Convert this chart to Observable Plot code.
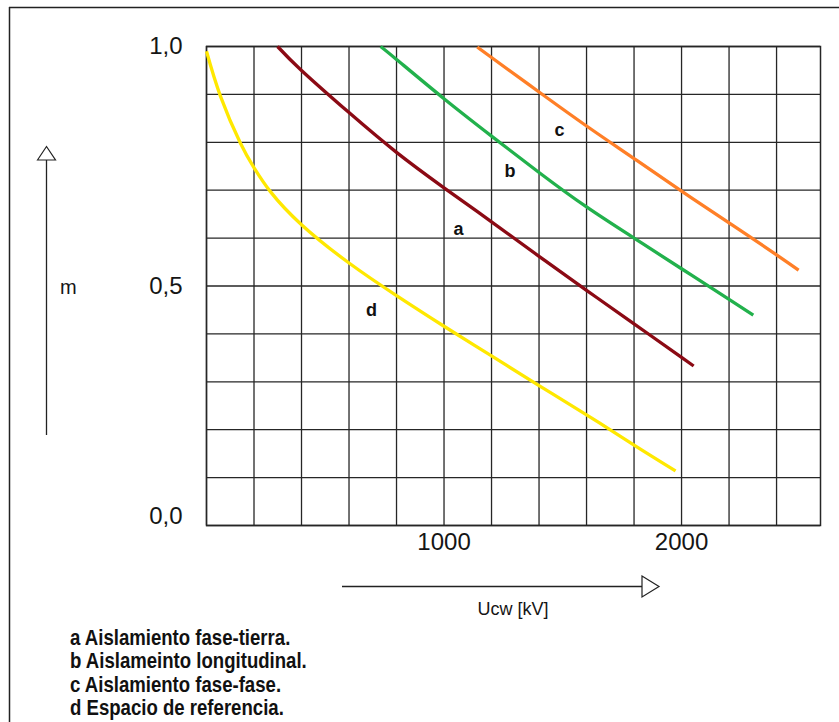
<!DOCTYPE html>
<html>
<head>
<meta charset="utf-8">
<script src="https://cdn.jsdelivr.net/npm/d3@7"></script>
<script src="https://cdn.jsdelivr.net/npm/@observablehq/plot@0.6"></script>
<style>
  html, body { margin: 0; padding: 0; background: #fff; }
  #page { position: relative; width: 839px; height: 722px; overflow: hidden; background: #fff; }
  #chart { position: absolute; left: 0; top: 0; }
  #overlay { position: absolute; left: 0; top: 0; }
</style>
</head>
<body>
<div id="page">
  <div id="chart"></div>
  <svg id="overlay" width="839" height="722"></svg>
</div>
<script>
// ---- data ----
// curve a: Aislamiento fase-tierra
const aX = [299, 400, 600, 800, 1000, 1200, 1400, 1600, 1800, 2000, 2051];
const aY = [1.0, 0.950, 0.862, 0.779, 0.705, 0.634, 0.562, 0.491, 0.421, 0.351, 0.333];
// curve b: Aislameinto longitudinal
const bX = [733, 800, 1000, 1200, 1400, 1600, 1800, 2000, 2200, 2302];
const bY = [1.0, 0.973, 0.891, 0.813, 0.737, 0.665, 0.600, 0.536, 0.472, 0.439];
// curve c: Aislamiento fase-fase
const cX = [1140, 1200, 1400, 1600, 1800, 2000, 2200, 2400, 2493];
const cY = [0.999, 0.977, 0.905, 0.834, 0.766, 0.698, 0.632, 0.565, 0.533];
// curve d: Espacio de referencia
const dX = [0, 59, 143, 200, 269, 400, 600, 800, 1000, 1200, 1400, 1600, 1800, 1975];
const dY = [0.990, 0.896, 0.798, 0.747, 0.697, 0.628, 0.548, 0.480, 0.416, 0.354, 0.292, 0.231, 0.168, 0.114];

const curveNames = ["a", "b", "c", "d"];
const curveColors = ["#8b0a14", "#22b14c", "#ff7f27", "#ffe800"];
const labelX = [1061, 1278, 1486, 695];
const labelY = [0.618, 0.739, 0.825, 0.449];

const xGrid = [0, 200, 400, 600, 800, 1000, 1200, 1400, 1600, 1800, 2000, 2200, 2400];
const yGrid = [0, 0.1, 0.2, 0.3, 0.4, 0.5, 0.6, 0.7, 0.8, 0.9, 1.0];
const xTicks = [1000, 2000];
const xTickLabels = ["1000", "2000"];
const yTicks = [0, 0.5, 1.0];
const yTickLabels = ["0,0", "0,5", "1,0"];

const legendLines = [
  "a Aislamiento fase-tierra.",
  "b Aislameinto longitudinal.",
  "c Aislamiento fase-fase.",
  "d Espacio de referencia."
];
const xAxisTitle = "Ucw [kV]";
const yAxisTitle = "m";

// ---- build tables ----
function table(xs, ys, name) { return xs.map((x, i) => ({x, y: ys[i], name})); }
const series = [table(aX, aY, "a"), table(bX, bY, "b"), table(cX, cY, "c"), table(dX, dY, "d")];
const labels = curveNames.map((n, i) => ({name: n, x: labelX[i], y: labelY[i]}));

const fontMain = "'Liberation Sans', Arial, Helvetica, sans-serif";
const gridColor = "#262626";

const plot = Plot.plot({
  width: 839,
  height: 560,
  marginLeft: 206,
  marginRight: 19,
  marginTop: 46,
  marginBottom: 35,
  x: {domain: [0, 2585]},
  y: {domain: [0, 1]},
  style: {fontFamily: fontMain, background: "transparent", color: "#151515", overflow: "visible"},
  marks: [
    Plot.ruleX(xGrid, {stroke: gridColor, strokeWidth: 1.3}),
    Plot.ruleY(yGrid, {stroke: gridColor, strokeWidth: 1.3}),
    Plot.frame({stroke: gridColor, strokeWidth: 1.5}),
    Plot.axisX(xTicks, {tickSize: 0, tickPadding: 7, fontSize: 24, label: null,
      tickFormat: d => xTickLabels[xTicks.indexOf(d)]}),
    Plot.axisY(yTicks.filter(d => d > 0), {tickSize: 0, tickPadding: 24, fontSize: 24, label: null,
      tickFormat: d => yTickLabels[yTicks.indexOf(d)]}),
    Plot.axisY(yTicks.filter(d => d === 0), {tickSize: 0, tickPadding: 24, fontSize: 24, label: null, dy: -9,
      tickFormat: d => yTickLabels[yTicks.indexOf(d)]}),
    ...series.map((s, i) => Plot.line(s, {x: "x", y: "y", stroke: curveColors[i], strokeWidth: 3.3,
      curve: "natural", strokeLinecap: "butt"})),
    Plot.text(labels, {x: "x", y: "y", text: "name", fontWeight: "bold", fontSize: 18,
      fill: "#111", lineAnchor: "middle"})
  ]
});
document.getElementById("chart").appendChild(plot);

// ---- page decorations: border, axis arrows, axis titles, legend ----
const ov = d3.select("#overlay");
ov.append("line").attr("x1", 9).attr("y1", 7.5).attr("x2", 839).attr("y2", 7.5)
  .attr("stroke", "#222").attr("stroke-width", 1.5);
ov.append("line").attr("x1", 9.5).attr("y1", 7).attr("x2", 9.5).attr("y2", 722)
  .attr("stroke", "#222").attr("stroke-width", 1.5);

// vertical arrow (m)
ov.append("line").attr("x1", 46.5).attr("y1", 160).attr("x2", 46.5).attr("y2", 435)
  .attr("stroke", "#222").attr("stroke-width", 1.3);
ov.append("path").attr("d", "M37.5,160 L46.5,146.5 L55.5,160 Z")
  .attr("fill", "#fff").attr("stroke", "#222").attr("stroke-width", 1.2);
ov.append("text").attr("x", 60).attr("y", 294).text(yAxisTitle)
  .attr("font-family", fontMain).attr("font-size", 20).attr("fill", "#151515");

// horizontal arrow (Ucw)
ov.append("line").attr("x1", 342).attr("y1", 586.5).attr("x2", 642).attr("y2", 586.5)
  .attr("stroke", "#222").attr("stroke-width", 1.3);
ov.append("path").attr("d", "M642,576 L659,586.5 L642,597 Z")
  .attr("fill", "#fff").attr("stroke", "#222").attr("stroke-width", 1.2);
ov.append("text").attr("x", 513).attr("y", 615).attr("text-anchor", "middle").text(xAxisTitle)
  .attr("font-family", fontMain).attr("font-size", 18).attr("fill", "#151515");

// legend (narrow bold face: regular bold compressed horizontally)
const legG = ov.append("g").attr("transform", "translate(70,0) scale(0.845,1)");
legG.selectAll("text").data(legendLines).join("text")
  .attr("x", 0).attr("y", (d, i) => 645 + i * 23.3)
  .attr("font-family", fontMain).attr("font-weight", "bold").attr("font-size", 22)
  .attr("fill", "#111").text(d => d);
</script>
</body>
</html>
